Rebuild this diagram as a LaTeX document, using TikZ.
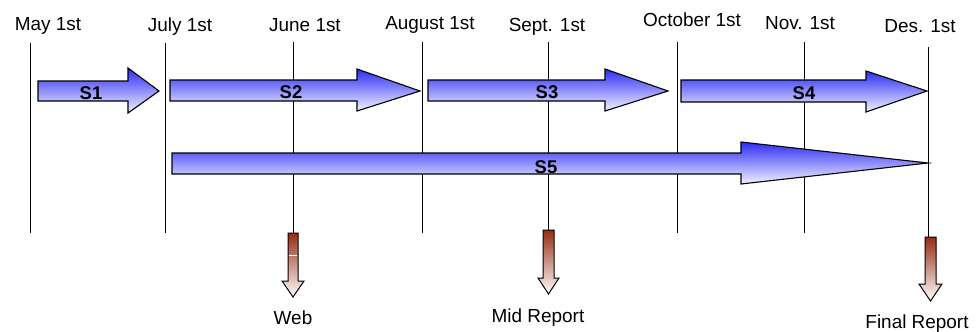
\documentclass[tikz,border=0pt]{standalone}
\usepackage{fontspec}
\setmainfont{Liberation Sans}
\tikzset{
  monthline/.style={draw=black, line width=0.9bp},
  stagearrow/.style={draw=black, line width=1.1bp, line join=miter,
    top color={rgb,255:red,45;green,45;blue,245},
    bottom color={rgb,255:red,242;green,242;blue,255}},
  deliverable/.style={draw=black, line width=1bp, line join=miter,
    top color={rgb,255:red,150;green,45;blue,20},
    bottom color={rgb,255:red,255;green,252;blue,252}},
  datelabel/.style={anchor=base, inner sep=0pt, font=\fontsize{19}{19}\selectfont},
  stagelabel/.style={anchor=base, inner sep=0pt, font=\bfseries\fontsize{18.5}{18.5}\selectfont},
  outlabel/.style={anchor=base, inner sep=0pt, font=\fontsize{19}{19}\selectfont}
}
% right-pointing block arrow:
% {left}{shaft top}{shaft bottom}{head base x}{head top}{head bottom}{tip x}{tip y}
\newcommand\rightblock[8]{%
  \path[stagearrow] (#1,#2) -- (#4,#2) -- (#4,#5) -- (#7,#8) -- (#4,#6)
    -- (#4,#3) -- (#1,#3) -- cycle;}
% downward block arrow:
% {shaft left}{shaft right}{top}{head base y}{head left}{head right}{tip y}
\newcommand\downblock[7]{%
  \path[deliverable] (#1,#3) -- (#2,#3) -- (#2,#4) -- (#6,#4)
    -- ({(#5+#6)/2},#7) -- (#5,#4) -- (#1,#4) -- cycle;}
\begin{document}
\begin{tikzpicture}[x=1bp, y=-1bp]
  \useasboundingbox (0,0) rectangle (977,331);

  % month labels
  \node[datelabel] (lmay) at (48,30)  {May 1st};
  \node[datelabel] (ljul) at (180,31) {July 1st};
  \node[datelabel] (ljun) at (305,31) {June 1st};
  \node[datelabel] (laug) at (430,29) {August 1st};
  \node[datelabel] (lsep) at (547,31) {Sept. 1st};
  \node[datelabel] (loct) at (692,26) {October 1st};
  \node[datelabel] (lnov) at (800,29) {Nov. 1st};
  \node[datelabel] (ldes) at (920,32) {Des. 1st};

  % month divider lines
  \coordinate (mayT) at (30,43);  \coordinate (mayB) at (30,233);
  \coordinate (julT) at (165,43); \coordinate (julB) at (165,233);
  \coordinate (junT) at (293,42); \coordinate (junB) at (293,233);
  \coordinate (augT) at (422,42); \coordinate (augB) at (422,233);
  \coordinate (sepT) at (548,42); \coordinate (sepB) at (548,230);
  \coordinate (octT) at (677,42); \coordinate (octB) at (677,233);
  \coordinate (novT) at (804,42); \coordinate (novB) at (804,233);
  \coordinate (desT) at (928,47); \coordinate (desB) at (928,237);
  \foreach \m in {may,jul,jun,aug,sep,oct,nov,des}
    \draw[monthline] (\m T) -- (\m B);

  % stages
  \rightblock{38}{81}{101}{128}{68}{113}{159}{91}
  \rightblock{170}{80}{101}{357}{69}{111}{420}{91}
  \rightblock{428}{80}{101}{605}{69}{111}{668}{91}
  \rightblock{681}{80}{102}{866}{71}{112}{927}{91}
  \rightblock{172}{153}{174}{741}{142}{184}{928}{163}

  \node[stagelabel] (s1) at (91,99)  {S1};
  \node[stagelabel] (s2) at (291,98) {S2};
  \node[stagelabel] (s3) at (547,98) {S3};
  \node[stagelabel] (s4) at (804,99) {S4};
  \node[stagelabel] (s5) at (546,173) {S5};

  % deliverables
  \downblock{288}{298}{233}{281}{282}{304}{297}
  \draw[white, line width=0.8bp] (288.6,255) -- (297.4,255);
  \downblock{543}{554}{230}{278}{538}{559}{294}
  \downblock{925}{936}{237}{284}{919}{942}{301}

  \node[outlabel] (web) at (293,324) {Web};
  \node[outlabel] (mid) at (538,322) {Mid Report};
  \node[outlabel] (fin) at (917,328) {Final Report};
\end{tikzpicture}
\end{document}
